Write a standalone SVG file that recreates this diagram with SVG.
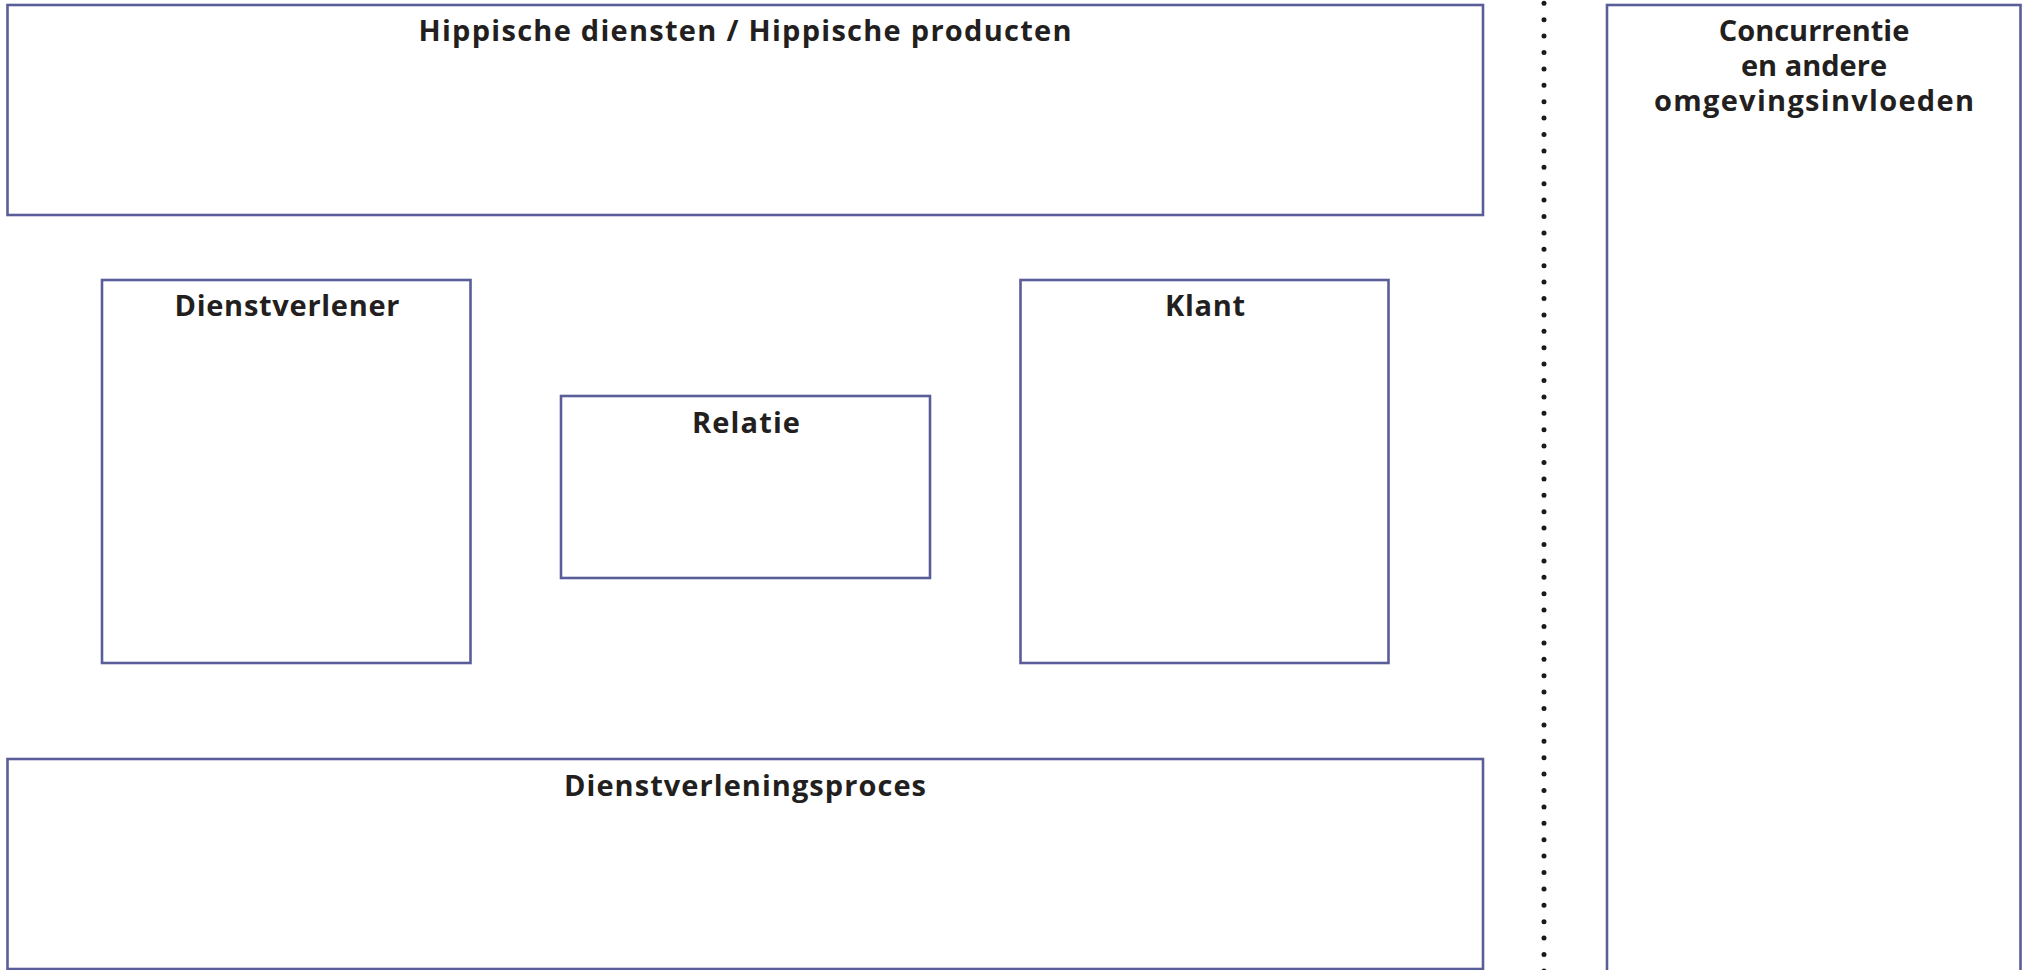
<svg xmlns="http://www.w3.org/2000/svg" width="2027" height="970" viewBox="0 0 2027 970">
<style>
.box{fill:#ffffff;stroke:#5a5e98;stroke-width:2.6}
.lbl{font-family:"Open Sans","Liberation Sans",sans-serif;font-weight:700;font-size:29px;fill:#231f20;text-anchor:middle}
.dots{stroke:#1a1a1a;stroke-width:5;stroke-linecap:round;stroke-dasharray:0 16.4;fill:none}
</style>
<rect width="2027" height="970" fill="#ffffff"/>
<g id="hippische">
<rect class="box" x="7.5" y="5" width="1475.5" height="210"/>
<text class="lbl" x="745" y="41" textLength="653">Hippische diensten / Hippische producten</text>
</g>
<g id="dienstverlener">
<rect class="box" x="102" y="280" width="368.5" height="383"/>
<text class="lbl" x="287" y="316" textLength="225">Dienstverlener</text>
</g>
<g id="relatie">
<rect class="box" x="561" y="396" width="369" height="182"/>
<text class="lbl" x="746" y="433" textLength="108">Relatie</text>
</g>
<g id="klant">
<rect class="box" x="1020.5" y="280" width="368" height="383"/>
<text class="lbl" x="1205" y="316" textLength="80">Klant</text>
</g>
<g id="dienstverleningsproces">
<rect class="box" x="7.5" y="759" width="1475.5" height="210"/>
<text class="lbl" x="745" y="796" textLength="362">Dienstverleningsproces</text>
</g>
<g id="concurrentie">
<rect class="box" x="1607" y="5" width="413.5" height="975"/>
<text class="lbl" x="1814" y="41">Concurrentie</text>
<text class="lbl" x="1814" y="76">en andere</text>
<text class="lbl" x="1814" y="111" textLength="320">omgevingsinvloeden</text>
</g>
<g id="connectors">
<line class="dots" x1="1544" y1="3.3" x2="1544" y2="975"/>
</g>
</svg>
